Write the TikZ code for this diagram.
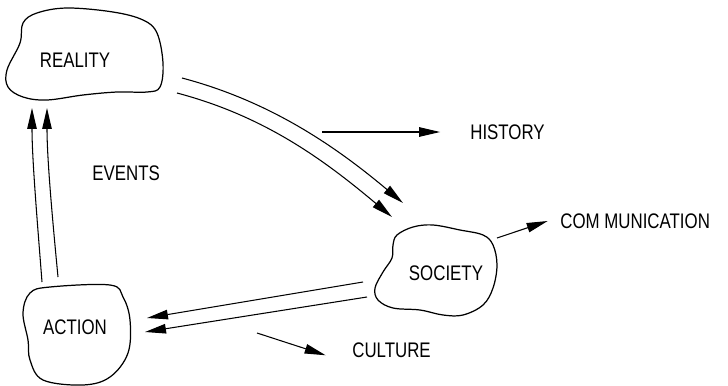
\documentclass[tikz,border=0pt]{standalone}
\usepackage{fontspec}
\newfontfamily\plotfont{Liberation Sans}[FakeStretch=0.8]
\usepackage{tikz}
\usetikzlibrary{arrows.meta,positioning,calc}

\begin{document}
\begin{tikzpicture}[
    x=0.02cm, y=-0.02cm,
    font=\plotfont\fontsize{12}{14}\selectfont,
    blob/.style={
        draw=black,
        line width=0.7pt,
        smooth cycle,
        tension=0.6
    },
    lbl/.style={
        inner sep=0pt,
        anchor=west
    },
    word/.style={
        inner sep=0pt
    },
    arr/.style={
        line width=0.6pt,
        -{Triangle[length=4.2mm,width=1.9mm]}
    }
]
\useasboundingbox (0,0) rectangle (728,386);

% the three clouds
\draw[blob] plot coordinates {(23,23) (37,13) (67,8) (113,12) (143,20) (157,33)
    (163,63) (160,87) (147,92) (117,92) (83,95) (47,100) (23,97) (8,87) (7,70) (20,43)};
\draw[blob] plot coordinates {(30,293) (50,287) (110,285) (123,297) (130,320)
    (128,353) (110,377) (83,385) (43,380) (30,360) (28,340) (23,313)};
\draw[blob] plot coordinates {(397,235) (413,227) (433,225) (460,230) (483,235)
    (493,245) (497,265) (493,288) (483,305) (463,315) (443,315) (420,310)
    (393,308) (378,300) (375,288) (383,272) (392,258) (393,245)};

\node[word] (reality) at (75,60) {REALITY};
\node[word] (action) at (75,327) {ACTION};
\node[word] (society) at (446,273) {SOCIETY};

\node[lbl] (events) at (92,173) {EVENTS};
\node[lbl] (history) at (470,132) {HISTORY};
\node[lbl] (culture) at (352,350) {CULTURE};
\node[lbl] (communication) at (560,221) {COM MUNICATION};

% arrow ends
\coordinate (rsA) at (182,78);
\coordinate (rsB) at (177,93);
\coordinate (srA) at (403,203);
\coordinate (srB) at (392,217);
\coordinate (saA) at (363,282);
\coordinate (saB) at (367,297);
\coordinate (asA) at (147,318);
\coordinate (asB) at (145,332);
\coordinate (arA) at (42,282);
\coordinate (arB) at (58,277);
\coordinate (raA) at (32,108);
\coordinate (raB) at (47,108);
\coordinate (hist) at (322,132);
\coordinate (cult) at (257,333);
\coordinate (comm) at (497,238);

\draw[arr] (rsA) .. controls (269,101) and (334,145) .. (srA);
\draw[arr] (rsB) .. controls (264,116) and (323,159) .. (srB);
\draw[arr] (saA) -- (asA);
\draw[arr] (saB) -- (asB);
\draw[arr] (arA) .. controls (38,230) and (32,160) .. (raA);
\draw[arr] (arB) .. controls (53,225) and (47,160) .. (raB);

\draw[arr] (hist) -- ([xshift=-17]history.west);
\draw[arr] (cult) -- ([xshift=-15,yshift=-3]culture.west);
\draw[arr] (comm) -- ([xshift=-7]communication.west);

\end{tikzpicture}
\end{document}
